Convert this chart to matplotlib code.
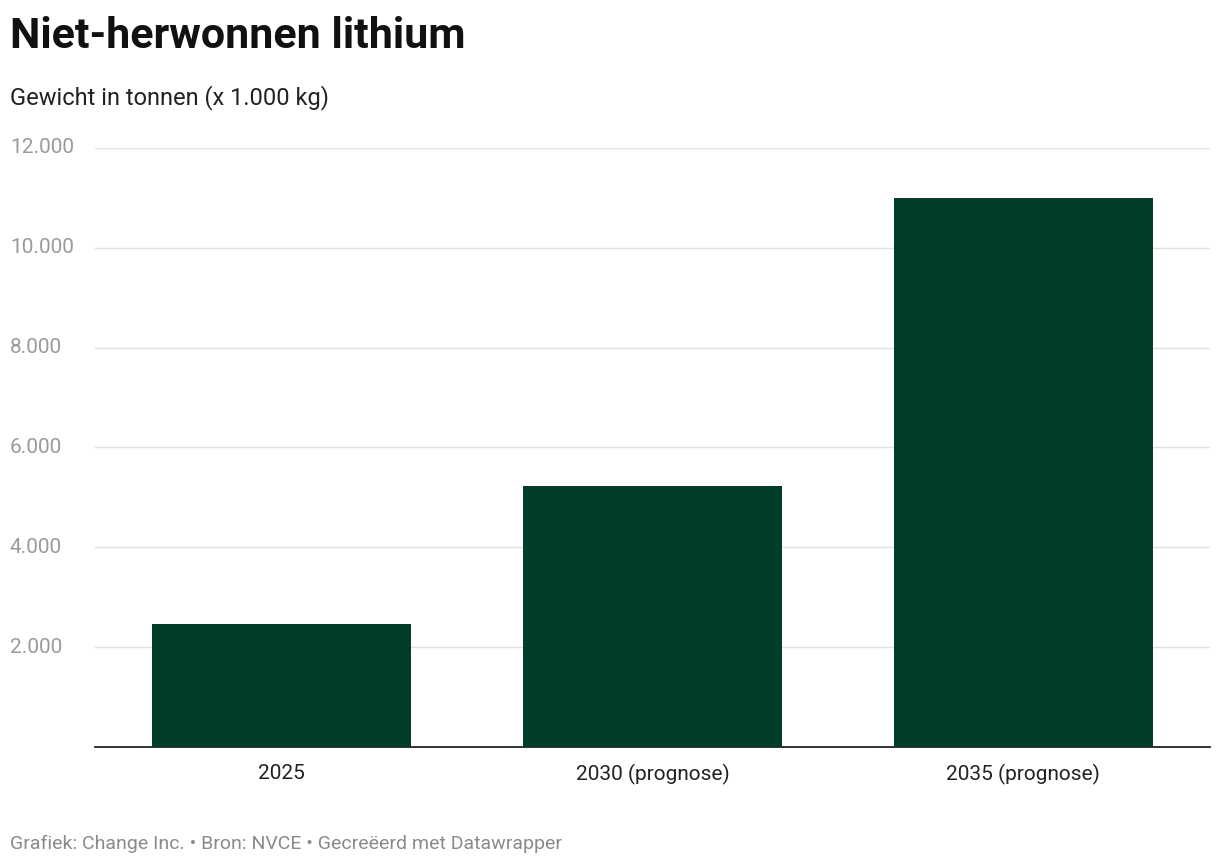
import matplotlib.pyplot as plt

categories = ["2025", "2030 (prognose)", "2035 (prognose)"]
values = [2470, 5230, 11000]
yticks = [2000, 4000, 6000, 8000, 10000, 12000]
ytick_labels = ["2.000", "4.000", "6.000", "8.000", "10.000", "12.000"]

plt.rcParams['font.family'] = ['Roboto', 'DejaVu Sans']

fig = plt.figure(figsize=(12.2, 8.68), dpi=100)
ax = fig.add_axes([0.0779, 0.1394, 0.9139, 0.6901])

x = range(len(categories))
ax.bar(x, values, width=0.698, color='#023d2b', zorder=3)
ax.set_xlim(-0.503, 2.503)
ax.set_ylim(0, 12000)

for t, lab in zip(yticks, ytick_labels):
    ax.axhline(t, color='#e0e0e0', lw=1, zorder=1)
    ax.text(10 / 1220, t, lab, transform=ax.get_yaxis_transform(), ha='left',
            va='center', fontsize=15, color='#9a9a9a')
ax.get_yaxis_transform()
ax.set_yticks([])
ax.set_xticks(list(x))
ax.set_xticklabels(categories, fontsize=15, color='#222222')
ax.tick_params(axis='x', length=0, pad=12)
for s in ['top', 'right', 'left']:
    ax.spines[s].set_visible(False)
ax.spines['bottom'].set_color('#222222')
ax.spines['bottom'].set_linewidth(1.3)

# fix y-label positions to figure x (blended transform)
import matplotlib.transforms as mtransforms
trans = mtransforms.blended_transform_factory(fig.transFigure, ax.transData)
for txt in ax.texts:
    txt.set_transform(trans)

fig.text(10 / 1220, 1 - 36 / 868, "Niet-herwonnen lithium", fontsize=31,
         fontweight='bold', va='center', ha='left', color='#111111')
fig.text(10 / 1220, 1 - 98 / 868, "Gewicht in tonnen (x 1.000 kg)", fontsize=17,
         va='center', ha='left', color='#222222')
fig.text(10 / 1220, 1 - 844 / 868,
         "Grafiek: Change Inc. • Bron: NVCE • Gecreëerd met Datawrapper",
         fontsize=14, va='center', ha='left', color='#8a8a8a')

fig.savefig("out.png", dpi=100)
